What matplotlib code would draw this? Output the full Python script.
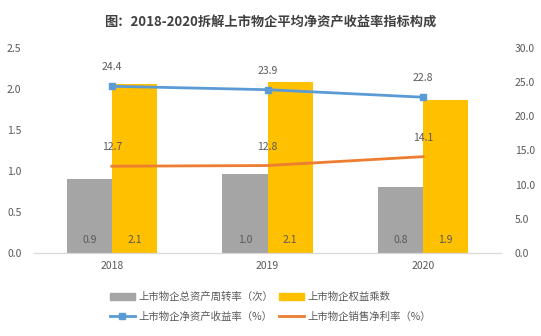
import numpy as np
import matplotlib.pyplot as plt
from matplotlib.lines import Line2D
from matplotlib.patches import Patch

plt.rcParams['font.family'] = ['Noto Sans CJK SC', 'DejaVu Sans']

years = ['2018', '2019', '2020']
asset_turnover = [0.90, 0.96, 0.80]      # 上市物企总资产周转率（次）
equity_multiplier = [2.06, 2.09, 1.86]   # 上市物企权益乘数
roe = [24.4, 23.9, 22.8]                 # 上市物企净资产收益率（%）
net_margin = [12.7, 12.8, 14.1]          # 上市物企销售净利率（%）

c_gray = '#a5a5a5'
c_gold = '#ffc000'
c_blue = '#5b9bd5'
c_orange = '#ed7d31'
c_text = '#595959'

fig = plt.figure(figsize=(5.41, 3.36), dpi=100)
ax = fig.add_axes([34 / 541, 1 - 253 / 336, 467 / 541, 205 / 336])
ax2 = ax.twinx()

x = np.arange(len(years))
w = 0.29
ax.bar(x - w / 2, asset_turnover, w, color=c_gray)
ax.bar(x + w / 2, equity_multiplier, w, color=c_gold)
for i in range(len(years)):
    ax.text(x[i] - w / 2, 0.16, '%.1f' % asset_turnover[i], ha='center', va='center',
            fontsize=7.5, color=c_text)
    ax.text(x[i] + w / 2, 0.16, '%.1f' % equity_multiplier[i], ha='center', va='center',
            fontsize=7.5, color=c_text)

ax2.plot(x, roe, color=c_blue, lw=2, marker='s', ms=5)
ax2.plot(x, net_margin, color=c_orange, lw=2)
for i in range(len(years)):
    ax2.annotate('%.1f' % roe[i], (x[i], roe[i]), xytext=(0, 10), textcoords='offset points',
                 ha='center', va='bottom', fontsize=7.5, color=c_text)
    ax2.annotate('%.1f' % net_margin[i], (x[i], net_margin[i]), xytext=(0, 10),
                 textcoords='offset points', ha='center', va='bottom', fontsize=7.5, color=c_text)

ax.set_xlim(-0.5, 2.5)
ax.set_ylim(0, 2.5)
ax2.set_ylim(0, 30)
ax.set_yticks(np.arange(0, 2.51, 0.5))
ax.set_yticklabels(['%.1f' % v for v in np.arange(0, 2.51, 0.5)])
ax2.set_yticks(np.arange(0, 30.1, 5))
ax2.set_yticklabels(['%.1f' % v for v in np.arange(0, 30.1, 5)])
ax.set_xticks(x)
ax.set_xticklabels(years)

for a in (ax, ax2):
    for s in ('top', 'left', 'right'):
        a.spines[s].set_visible(False)
    a.spines['bottom'].set_color('#d9d9d9')
    a.tick_params(length=0, labelsize=7.5, labelcolor=c_text)
ax.tick_params(axis='y', pad=9)
ax2.tick_params(axis='y', pad=10)
ax.tick_params(axis='x', pad=6)

fig.text(0.5, 1 - 22 / 336, '图：2018-2020拆解上市物企平均净资产收益率指标构成',
         ha='center', va='center', fontsize=9.5, fontweight='bold', color='#404040')

# 图例按列填充：第一列为周转率/ROE，第二列为权益乘数/净利率
handles = [Patch(color=c_gray),
           Line2D([], [], color=c_blue, lw=2, marker='s', ms=4),
           Patch(color=c_gold),
           Line2D([], [], color=c_orange, lw=2)]
labels = ['上市物企总资产周转率（次）', '上市物企净资产收益率（%）',
          '上市物企权益乘数', '上市物企销售净利率（%）']
fig.legend(handles, labels, ncol=2, loc='center', bbox_to_anchor=(0.5, 1 - 307 / 336),
           frameon=False, fontsize=7.5, labelcolor=c_text, handlelength=2.4,
           handletextpad=0.3, columnspacing=0.6, labelspacing=0.9)

fig.savefig('out.png', dpi=100)
